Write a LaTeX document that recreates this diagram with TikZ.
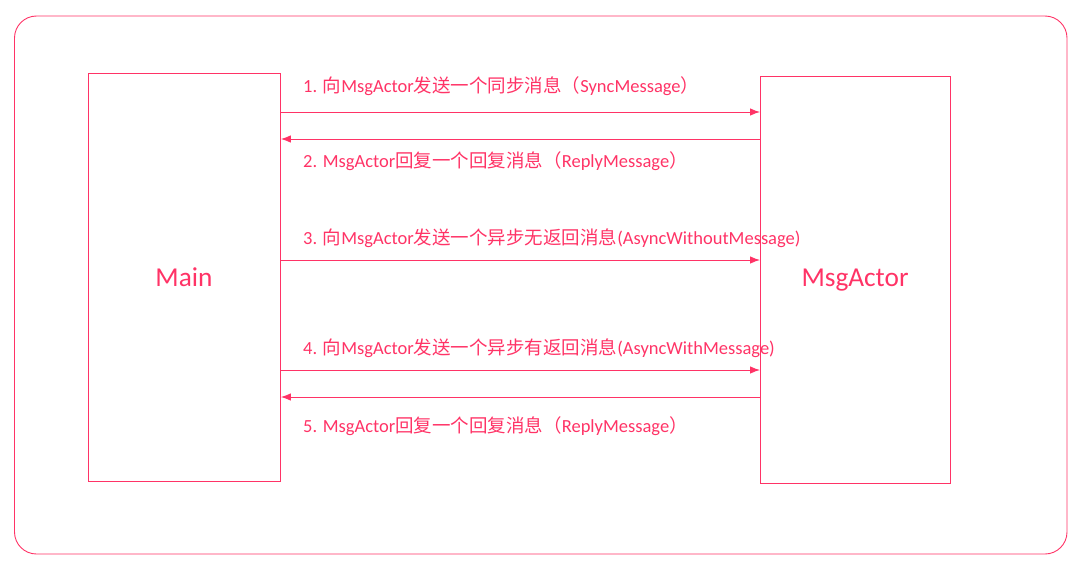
\documentclass[tikz,border=0pt]{standalone}
\usepackage{fontspec}
\usetikzlibrary{arrows.meta}
\setmainfont{Carlito}
\newfontfamily\cjk{Noto Sans CJK SC}
\newcommand{\zh}[1]{{\cjk #1}}
\definecolor{pk}{RGB}{255,51,102}
\begin{document}
\begin{tikzpicture}[x=1pt,y=-1pt,
  box/.style={draw=pk,line width=0.9pt},
  msg/.style={draw=pk,line width=0.9pt,-{Latex[length=10pt,width=7.5pt]}},
  lbl/.style={anchor=west,text=pk,font=\fontsize{18.5}{21}\selectfont,inner sep=0pt},
  big/.style={text=pk,font=\fontsize{27.3}{31}\selectfont}]
\useasboundingbox (0,0) rectangle (1081,562);
\draw[pk,line width=0.9pt,rounded corners=22pt] (14.5,16) rectangle (1067,554);
\node[box,minimum width=192pt,minimum height=408pt,anchor=north west,inner sep=0pt] (main) at (88,73) {};
\node[box,minimum width=190pt,minimum height=407pt,anchor=north west,inner sep=0pt] (actor) at (760,76) {};
\node[big] (mainlbl) at (184,277) {Main};
\node[big] (actorlbl) at (855,280) {MsgActor};
\coordinate (a1) at (main.east |- 0,112);
\coordinate (b1) at (actor.west |- 0,112);
\coordinate (a2) at (main.east |- 0,139);
\coordinate (b2) at (actor.west |- 0,139);
\coordinate (a3) at (main.east |- 0,260);
\coordinate (b3) at (actor.west |- 0,260);
\coordinate (a4) at (main.east |- 0,370);
\coordinate (b4) at (actor.west |- 0,370);
\coordinate (a5) at (main.east |- 0,397);
\coordinate (b5) at (actor.west |- 0,397);
\draw[msg] (a1) -- (b1);
\draw[msg] (b2) -- (a2);
\draw[msg] (a3) -- (b3);
\draw[msg] (a4) -- (b4);
\draw[msg] (b5) -- (a5);
\node[lbl] (t1) at (303,86) {1. \zh{向}MsgActor\zh{发送一个同步消息（}SyncMessage\zh{）}};
\node[lbl] (t2) at (303,161) {2. MsgActor\zh{回复一个回复消息（}ReplyMessage\zh{）}};
\node[lbl] (t3) at (303,238) {3. \zh{向}MsgActor\zh{发送一个异步无返回消息}(AsyncWithoutMessage)};
\node[lbl] (t4) at (303,348) {4. \zh{向}MsgActor\zh{发送一个异步有返回消息}(AsyncWithMessage)};
\node[lbl] (t5) at (303,426) {5. MsgActor\zh{回复一个回复消息（}ReplyMessage\zh{）}};
\end{tikzpicture}
\end{document}
